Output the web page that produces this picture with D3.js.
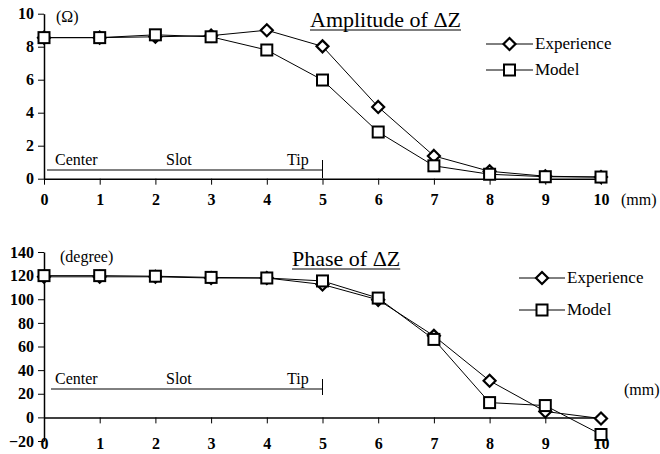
<!DOCTYPE html>
<html><head><meta charset="utf-8">
<script src="https://cdn.jsdelivr.net/npm/d3@7"></script>
<style>body{margin:0;background:#fff}svg{display:block}text{font-family:"Liberation Serif","Times New Roman",serif;fill:#000}</style>
</head><body>
<script>
const positions = [0,1,2,3,4,5,6,7,8,9,10];
const ampExperience = [8.55,8.55,8.6,8.67,9.0,8.02,4.35,1.38,0.45,0.15,0.1];
const ampModel      = [8.55,8.55,8.72,8.6,7.8,5.98,2.83,0.78,0.27,0.12,0.1];
const phaseExperience = [119,119,119,118,118,112.5,99.5,69,31,5,-1];
const phaseModel      = [120,120,119.5,118.5,118,115.5,101,66,12.5,10,-14.5];
const ampTicks = [0,2,4,6,8,10];
const phaseTicks = [-20,0,20,40,60,80,100,120,140];
const seriesNames = ["Experience","Model"];
const regionLabels = ["Center","Slot","Tip"];

const W=660,H=454;
const svg=d3.select("body").append("svg").attr("width",W).attr("height",H);
const FF='"Liberation Serif","Times New Roman",serif';

function panel(cfg){
  const g=svg.append("g");
  const x=d3.scaleLinear().domain([0,10]).range([44,601]);
  const y=d3.scaleLinear().domain(cfg.domain).range(cfg.range);
  const ya=g.append("g").attr("transform","translate(44,0)")
    .call(d3.axisLeft(y).tickValues(cfg.ticks).tickSize(6).tickSizeOuter(0).tickPadding(4));
  ya.select(".domain").attr("stroke-width",1.5);
  ya.selectAll("text").style("font-size","16px").style("font-weight","bold").style("font-family",FF);
  const xa=g.append("g").attr("transform",`translate(0,${y(0)})`)
    .call(d3.axisBottom(x).tickValues(positions).tickSize(6).tickSizeOuter(0).tickPadding(cfg.xPad));
  xa.select(".domain").attr("stroke-width",1.5);
  xa.selectAll("text").style("font-size","16px").style("font-weight","bold").style("font-family",FF);
  // region annotation
  g.append("line").attr("x1",cfg.annX0).attr("x2",x(5)).attr("y1",cfg.annY).attr("y2",cfg.annY).attr("stroke","#000").attr("stroke-width",1);
  g.append("line").attr("x1",x(5)).attr("x2",x(5)).attr("y1",cfg.annY-10).attr("y2",cfg.annY+cfg.tipDown).attr("stroke","#000").attr("stroke-width",1);
  const annXs=[55,166,287];
  regionLabels.forEach((t,i)=>g.append("text").attr("x",annXs[i]).attr("y",cfg.annY-5).style("font-size","16px").text(t));
  // lines and markers
  const line=d3.line().x((d,i)=>x(positions[i])).y(d=>y(d));
  [cfg.exp,cfg.mod].forEach(s=>g.append("path").attr("d",line(s)).attr("fill","none").attr("stroke","#000").attr("stroke-width",1));
  const sq=11, dm=6;
  g.selectAll(".dm").data(cfg.exp).enter().append("path")
    .attr("d",(d,i)=>{const cx=x(positions[i]),cy=y(d);return `M${cx},${cy-dm}L${cx+dm},${cy}L${cx},${cy+dm}L${cx-dm},${cy}Z`;})
    .attr("fill","#fff").attr("stroke","#000").attr("stroke-width",2.2);
  g.selectAll(".sq").data(cfg.mod).enter().append("rect")
    .attr("x",(d,i)=>x(positions[i])-sq/2).attr("y",d=>y(d)-sq/2).attr("width",sq).attr("height",sq)
    .attr("fill","#fff").attr("stroke","#000").attr("stroke-width",2);
  // title
  const tt=g.append("text").attr("x",cfg.titleX).attr("y",cfg.titleY).style("font-size","22px").text(cfg.title);
  const bb=tt.node().getBBox();
  g.append("line").attr("x1",bb.x).attr("x2",bb.x+bb.width).attr("y1",cfg.titleY+3).attr("y2",cfg.titleY+3).attr("stroke","#000").attr("stroke-width",1.2);
  // unit
  g.append("text").attr("x",cfg.unitX).attr("y",cfg.unitY).style("font-size","16px").text(cfg.unit);
  g.append("text").attr("x",cfg.mmX).attr("y",cfg.mmY).style("font-size","16px").text("(mm)");
  // legend
  seriesNames.forEach((n,i)=>{
    const ly=cfg.legY+i*cfg.legDy;
    g.append("line").attr("x1",cfg.legX0).attr("x2",cfg.legX1).attr("y1",ly).attr("y2",ly).attr("stroke","#000").attr("stroke-width",1);
    const cx=(cfg.legX0+cfg.legX1)/2;
    if(i===0) g.append("path").attr("d",`M${cx},${ly-dm}L${cx+dm},${ly}L${cx},${ly+dm}L${cx-dm},${ly}Z`).attr("fill","#fff").attr("stroke","#000").attr("stroke-width",2.2);
    else g.append("rect").attr("x",cx-sq/2).attr("y",ly-sq/2).attr("width",sq).attr("height",sq).attr("fill","#fff").attr("stroke","#000").attr("stroke-width",2);
    g.append("text").attr("x",cfg.legX1+2).attr("y",ly+5).style("font-size","17px").text(n);
  });
}

panel({domain:[0,10],range:[178.7,13.7],ticks:ampTicks,xPad:9,exp:ampExperience,mod:ampModel,
  annX0:47,annY:170,tipDown:8,title:"Amplitude of ΔZ",titleX:310,titleY:27,unit:"(Ω)",unitX:56,unitY:22,
  mmX:621,mmY:205,legX0:486,legX1:533,legY:44,legDy:26});
panel({domain:[-20,140],range:[441,252],ticks:phaseTicks,xPad:14,exp:phaseExperience,mod:phaseModel,
  annX0:51,annY:389,tipDown:6,title:"Phase of ΔZ",titleX:292,titleY:266,unit:"(degree)",unitX:60,unitY:262,
  mmX:624,mmY:395,legX0:519,legX1:565,legY:278,legDy:32});
</script>
</body></html>
